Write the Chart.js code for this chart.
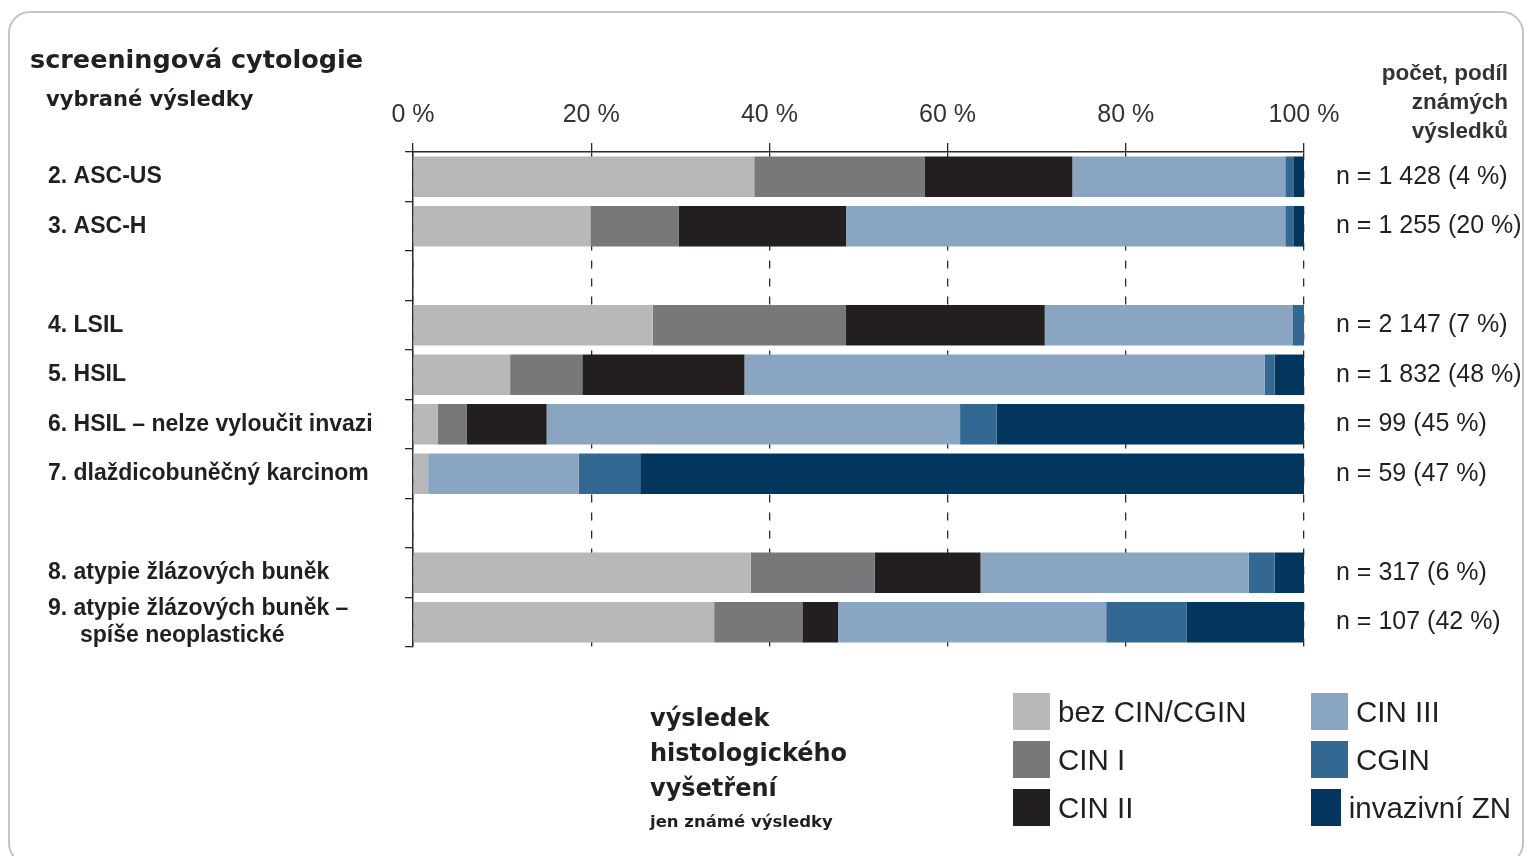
<!DOCTYPE html>
<html lang="cs">
<head>
<meta charset="utf-8">
<title>screeningová cytologie</title>
<script src="https://cdn.jsdelivr.net/npm/chart.js@4/dist/chart.umd.min.js"></script>
<style>
    html, body { margin: 0; padding: 0; background: #fff; }
    body { width: 1530px; height: 856px; position: relative; overflow: hidden; color: #231f20; }
    .ramecek { position: absolute; left: 8px; top: 11px; width: 1512px; height: 850px; border: 2px solid #c4c4c4; border-radius: 22px; }
    canvas { position: absolute; left: 0; top: 0; }
    .titulek { position: absolute; left: 30px; top: 44px; font: bold 25.5px "DejaVu Sans", sans-serif; }
    .podtitulek { position: absolute; left: 46px; top: 87px; font: bold 21px "DejaVu Sans", sans-serif; }
    .pocet { position: absolute; right: 22px; top: 58px; text-align: right; font: bold 22.5px "Liberation Sans", Arial, sans-serif; line-height: 29px; color: #333; }
    .histo { position: absolute; left: 650px; top: 701px; font: bold 24px "DejaVu Sans", sans-serif; line-height: 35px; }
    .histo small { display: block; font-size: 16.5px; line-height: 22px; margin-top: 5px; }
    .legenda { position: absolute; left: 1013px; top: 693px; display: grid; grid-template-columns: 298px 200px; row-gap: 11px; grid-auto-flow: column; grid-template-rows: 37px 37px 37px; }
    .polozka { display: flex; align-items: center; font: 29.5px "Liberation Sans", Arial, sans-serif; white-space: nowrap; }
    .polozka span { display: inline-block; width: 37px; height: 37px; margin-right: 8px; }
</style>
</head>
<body>
<div class="ramecek"></div>
<canvas id="graf" width="1530" height="856"></canvas>
<div class="titulek">screeningová cytologie</div>
<div class="podtitulek">vybrané výsledky</div>
<div class="pocet">počet, podíl<br>známých<br>výsledků</div>
<div class="histo">výsledek<br>histologického<br>vyšetření<small>jen známé výsledky</small></div>
<div class="legenda" id="legenda"></div>

<script>
// kategorie (prázdné řádky = mezery mezi skupinami)
const kategorie = [
    "2. ASC-US",
    "3. ASC-H",
    "",
    "4. LSIL",
    "5. HSIL",
    "6. HSIL – nelze vyloučit invazi",
    "7. dlaždicobuněčný karcinom",
    "",
    "8. atypie žlázových buněk",
    ["9. atypie žlázových buněk –", "     spíše neoplastické"]
];

const pocty = [
    "n = 1 428 (4 %)",
    "n = 1 255 (20 %)",
    "",
    "n = 2 147 (7 %)",
    "n = 1 832 (48 %)",
    "n = 99 (45 %)",
    "n = 59 (47 %)",
    "",
    "n = 317 (6 %)",
    "n = 107 (42 %)"
];

// podíly v %
const bezCin  = [38.3, 19.9, null, 26.9, 10.9, 2.8, 1.7, null, 37.9, 33.8];
const cin1    = [19.1, 9.9, null, 21.7, 8.1, 3.2, 0, null, 13.9, 9.9];
const cin2    = [16.6, 18.8, null, 22.3, 18.2, 9.0, 0, null, 11.9, 4.0];
const cin3    = [23.9, 49.3, null, 27.8, 58.4, 46.4, 16.9, null, 30.1, 30.1];
const cgin    = [0.9, 0.9, null, 1.3, 1.1, 4.1, 6.9, null, 2.9, 9.0];
const invaziv = [1.2, 1.2, null, 0, 3.3, 34.5, 74.5, null, 3.3, 13.2];

const nazvy = ["bez CIN/CGIN", "CIN I", "CIN II", "CIN III", "CGIN", "invazivní ZN"];
const barvy = ["#b7b8ba", "#77787a", "#231f20", "#8aa5c2", "#326891", "#02365f"];
const hodnoty = [bezCin, cin1, cin2, cin3, cgin, invaziv];

const osaTicks = [0, 20, 40, 60, 80, 100];

// legenda
const legenda = document.getElementById("legenda");
nazvy.forEach((n, i) => {
    const el = document.createElement("div");
    el.className = "polozka";
    el.innerHTML = `<span style="background:${barvy[i]}"></span>${n}`;
    legenda.appendChild(el);
});

const pismo = "'Liberation Sans', Arial, sans-serif";

new Chart(document.getElementById("graf"), {
    type: "bar",
    data: {
        labels: kategorie,
        datasets: hodnoty.map((d, i) => ({
            label: nazvy[i],
            data: d,
            backgroundColor: barvy[i],
            borderWidth: 0,
            barPercentage: 0.82,
            categoryPercentage: 1
        }))
    },
    options: {
        indexAxis: "y",
        responsive: false,
        animation: false,
        devicePixelRatio: 1,
        layout: { padding: { left: 48, top: 0, right: 0, bottom: 209 } },
        plugins: { legend: { display: false }, tooltip: { enabled: false } },
        scales: {
            x: {
                position: "top",
                stacked: true,
                min: 0,
                max: 100,
                afterBuildTicks: (s) => { s.ticks = osaTicks.map(v => ({ value: v })); },
                afterFit: (s) => { s.height = 152; },
                ticks: {
                    padding: 13,
                    color: "#333",
                    font: { family: pismo, size: 25 },
                    callback: (v) => v + " %"
                },
                grid: {
                    color: "#2b2b2b",
                    lineWidth: 1.3,
                    tickLength: 9,
                    tickColor: "#2b2b2b",
                    borderDash: [8, 10]
                },
                border: { display: true, color: "#2b2b2b", width: 1.5, dash: [8, 10] }
            },
            y: {
                stacked: true,
                afterFit: (s) => { s.width = 365; },
                ticks: {
                    crossAlign: "far",
                    autoSkip: false,
                    color: "#231f20",
                    font: { family: pismo, size: 23, weight: "bold" }
                },
                grid: {
                    drawOnChartArea: false,
                    tickLength: 8,
                    color: "#2b2b2b",
                    lineWidth: 1.3
                },
                border: { display: true, color: "#2b2b2b", width: 1.5 }
            },
            y2: {
                type: "category",
                position: "right",
                labels: pocty,
                offset: true,
                afterFit: (s) => { s.width = 226; },
                ticks: {
                    crossAlign: "near",
                    autoSkip: false,
                    padding: 24,
                    color: "#231f20",
                    font: { family: pismo, size: 25 }
                },
                grid: { display: false },
                border: { display: false }
            }
        }
    }
});
</script>
</body>
</html>
